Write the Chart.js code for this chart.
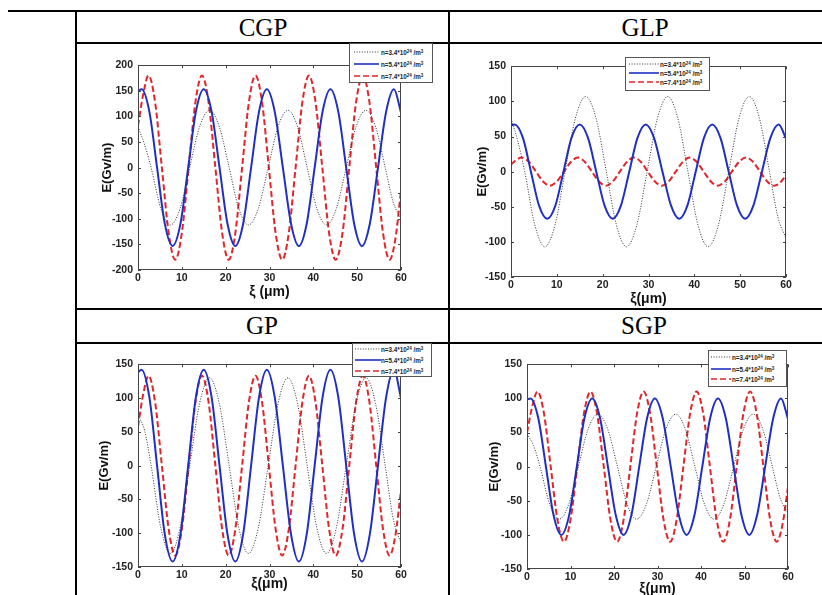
<!DOCTYPE html>
<html>
<head>
<meta charset="utf-8">
<script src="https://cdn.jsdelivr.net/npm/chart.js@4.4.1/dist/chart.umd.min.js"></script>
<style>
  body { margin: 0; width: 822px; height: 595px; background: #fff; overflow: hidden; position: relative; font-family: "Liberation Sans", Arial, sans-serif; }
  .ln { position: absolute; background: #000; }
  .hd { position: absolute; font-family: "Liberation Serif", "Times New Roman", serif; font-size: 25px; transform: translate(-50%, -50%); white-space: nowrap; color: #000; }
  canvas.p { position: absolute; }
  .lg { position: absolute; border: 1px solid #555; background: #fff; box-sizing: border-box; }
  .lg .row { position: absolute; left: 0; height: 8px; white-space: nowrap; font-size: 6.3px; font-weight: bold; color: #222; line-height: 8px; }
  .lg .row svg { position: absolute; top: 0; }
  .lg .row span { position: absolute; top: 0; }
  .lg sup { font-size: 4.5px; vertical-align: 2px; }
</style>
</head>
<body>

<!-- table lines -->
<div class="ln" style="left:8px;top:10px;width:814px;height:2px"></div>
<div class="ln" style="left:75px;top:10px;width:2px;height:585px"></div>
<div class="ln" style="left:448px;top:10px;width:2px;height:585px"></div>
<div class="ln" style="left:76px;top:42px;width:746px;height:1.5px"></div>
<div class="ln" style="left:76px;top:308px;width:746px;height:2px"></div>
<div class="ln" style="left:76px;top:342px;width:746px;height:1.5px"></div>

<div class="hd" style="left:263px;top:28px">CGP</div>
<div class="hd" style="left:645px;top:28px">GLP</div>
<div class="hd" style="left:262px;top:326px">GP</div>
<div class="hd" style="left:644px;top:326px">SGP</div>

<canvas class="p" id="cgp" width="313" height="247" style="left:100px;top:54px"></canvas>
<canvas class="p" id="glp" width="323" height="253" style="left:475px;top:55px"></canvas>
<canvas class="p" id="gp" width="316" height="240" style="left:97px;top:353px"></canvas>
<canvas class="p" id="sgp" width="313" height="245" style="left:487px;top:353px"></canvas>

<script>
// x positions (µm) of the points (extrema, zero crossings, and half way between)
const dotX  = [0, 1.5, 3.0, 5.2, 7.4, 9.6, 11.8, 14.05, 16.3, 18.55, 20.8, 23.0, 25.2, 27.45, 29.7, 31.95, 34.2, 36.4, 38.6, 40.8, 43.0, 45.25, 47.5, 49.75, 52.0, 54.2, 56.4, 58.2, 60];
const blueX = [0, 0.8, 2.6, 4.35, 6.1, 7.9, 9.7, 11.45, 13.2, 15.0, 16.8, 18.6, 20.4, 22.2, 24.0, 25.8, 27.6, 29.4, 31.2, 33.05, 34.9, 36.7, 38.5, 40.3, 42.1, 43.9, 45.7, 47.5, 49.3, 51.1, 52.9, 54.75, 56.6, 58.4, 60];
const redX  = [0, 1.2, 2.4, 3.9, 5.45, 7.0, 8.5, 10.0, 11.55, 13.1, 14.6, 16.1, 17.65, 19.2, 20.7, 22.2, 23.75, 25.3, 26.8, 28.3, 29.85, 31.4, 32.9, 34.4, 35.95, 37.5, 39.0, 40.5, 42.05, 43.6, 45.1, 46.65, 48.2, 49.75, 51.3, 52.8, 54.35, 55.9, 57.4, 58.7, 60];

// E (GV/m)
const cgpDot  = [80, 45, 0, -80, -112, -80, 0, 80, 112, 80, 0, -80, -112, -80, 0, 80, 112, 80, 0, -80, -112, -80, 0, 80, 112, 80, 0, -67, -100];
const cgpBlue = [150, 153, 109, 0, -109, -153, -109, 0, 109, 153, 109, 0, -109, -153, -109, 0, 109, 153, 109, 0, -109, -153, -109, 0, 109, 153, 109, 0, -109, -153, -109, 0, 109, 153, 108];
const cgpRed  = [82, 144, 180, 128, 0, -128, -180, -128, 0, 128, 180, 128, 0, -128, -180, -128, 0, 128, 180, 128, 0, -128, -180, -128, 0, 128, 180, 128, 0, -128, -180, -128, 0, 128, 180, 128, 0, -128, -180, -140, -45];

const glpDot  = [76, 43, 0, -76, -107, -76, 0, 76, 107, 76, 0, -76, -107, -76, 0, 76, 107, 76, 0, -76, -107, -76, 0, 76, 107, 76, 0, -64, -95];
const glpBlue = [66, 67, 48, 0, -48, -67, -48, 0, 48, 67, 48, 0, -48, -67, -48, 0, 48, 67, 48, 0, -48, -67, -48, 0, 48, 67, 48, 0, -48, -67, -48, 0, 48, 67, 47];
const glpRed  = [10, 17, 20, 14, 0, -14, -20, -14, 0, 14, 20, 14, 0, -14, -20, -14, 0, 14, 20, 14, 0, -14, -20, -14, 0, 14, 20, 14, 0, -14, -20, -14, 0, 14, 20, 14, 0, -14, -20, -16, -5];

const gpDot  = [75, 52, 0, -92, -130, -92, 0, 92, 130, 92, 0, -92, -130, -92, 0, 92, 130, 92, 0, -92, -130, -92, 0, 92, 130, 92, 0, -78, -115];
const gpBlue = [138, 142, 101, 0, -101, -142, -101, 0, 101, 142, 101, 0, -101, -142, -101, 0, 101, 142, 101, 0, -101, -142, -101, 0, 101, 142, 101, 0, -101, -142, -101, 0, 101, 142, 100];
const gpRed  = [58, 106, 133, 94, 0, -94, -133, -94, 0, 94, 133, 94, 0, -94, -133, -94, 0, 94, 133, 94, 0, -94, -133, -94, 0, 94, 133, 94, 0, -94, -133, -94, 0, 94, 133, 94, 0, -94, -133, -104, -37];

const sgpDot  = [48, 31, 0, -55, -77, -55, 0, 55, 77, 55, 0, -55, -77, -55, 0, 55, 77, 55, 0, -55, -77, -55, 0, 55, 77, 55, 0, -46, -68];
const sgpBlue = [98, 100, 71, 0, -71, -100, -71, 0, 71, 100, 71, 0, -71, -100, -71, 0, 71, 100, 71, 0, -71, -100, -71, 0, 71, 100, 71, 0, -71, -100, -71, 0, 71, 100, 70];
const sgpRed  = [50, 88, 110, 78, 0, -78, -110, -78, 0, 78, 110, 78, 0, -78, -110, -78, 0, 78, 110, 78, 0, -78, -110, -78, 0, 78, 110, 78, 0, -78, -110, -78, 0, 78, 110, 78, 0, -78, -110, -86, -30];

const seriesLabels = ['n=3.4*10<sup>24</sup> /m<sup>3</sup>', 'n=5.4*10<sup>24</sup> /m<sup>3</sup>', 'n=7.4*10<sup>24</sup> /m<sup>3</sup>'];

const styles = [
    { color: '#333333', width: 1, dash: [1, 1.6] },
    { color: '#1f2fc4', width: 2, dash: [] },
    { color: '#e0262a', width: 2, dash: [6, 3] }
];

// box + inward ticks, matlab style
const boxPlugin = {
    id: 'box',
    afterDatasetsDraw(chart) {
        const { ctx, chartArea: a, scales } = chart;
        ctx.save();
        ctx.strokeStyle = '#444';
        ctx.lineWidth = 1;
        ctx.strokeRect(Math.round(a.left) + 0.5, Math.round(a.top) + 0.5, Math.round(a.width) - 1, Math.round(a.height) - 1);
        ctx.beginPath();
        scales.x.ticks.forEach(t => {
            const px = Math.round(scales.x.getPixelForValue(t.value)) + 0.5;
            ctx.moveTo(px, a.bottom); ctx.lineTo(px, a.bottom - 3);
            ctx.moveTo(px, a.top); ctx.lineTo(px, a.top + 3);
        });
        scales.y.ticks.forEach(t => {
            const py = Math.round(scales.y.getPixelForValue(t.value)) + 0.5;
            ctx.moveTo(a.left, py); ctx.lineTo(a.left + 3, py);
            ctx.moveTo(a.right, py); ctx.lineTo(a.right - 3, py);
        });
        ctx.stroke();
        ctx.restore();
    }
};

function toPts(xs, ys) { return xs.map((x, i) => ({ x, y: ys[i] })); }

function panel(id, yMin, yMax, yW, xH, xTitle, dot, blue, red) {
    const sets = [toPts(dotX, dot), toPts(blueX, blue), toPts(redX, red)];
    new Chart(document.getElementById(id), {
        type: 'line',
        data: {
            datasets: sets.map((d, i) => ({
                data: d,
                borderColor: styles[i].color, borderWidth: styles[i].width, borderDash: styles[i].dash,
                pointRadius: 0, fill: false, cubicInterpolationMode: 'monotone'
            }))
        },
        options: {
            responsive: false, animation: false, events: [],
            layout: { padding: { top: 10, right: 12, left: 0, bottom: 0 } },
            plugins: { legend: { display: false }, tooltip: { enabled: false } },
            scales: {
                x: {
                    type: 'linear', min: 0, max: 60,
                    ticks: { stepSize: 10, padding: 2, color: '#222', font: { family: 'Liberation Sans', size: 10.5, weight: 'bold' } },
                    grid: { display: false, drawTicks: false }, border: { display: false },
                    title: { display: true, text: xTitle, padding: 0, color: '#111', font: { family: 'Liberation Sans', size: 14, weight: 'bold' } },
                    afterFit: s => { s.height = xH; }
                },
                y: {
                    min: yMin, max: yMax,
                    ticks: { stepSize: 50, padding: 5, color: '#222', font: { family: 'Liberation Sans', size: 10.5, weight: 'bold' } },
                    grid: { display: false, drawTicks: false }, border: { display: false },
                    title: { display: true, text: 'E(Gv/m)', padding: 0, color: '#111', font: { family: 'Liberation Sans', size: 13, weight: 'bold' } },
                    afterFit: s => { s.width = yW; }
                }
            }
        },
        plugins: [boxPlugin]
    });
}

panel('cgp', -200, 200, 38, 31, 'ξ (μm)', cgpDot, cgpBlue, cgpRed);
panel('glp', -150, 150, 36, 31, 'ξ(μm)', glpDot, glpBlue, glpRed);
panel('gp', -150, 150, 41, 26, 'ξ(μm)', gpDot, gpBlue, gpRed);
panel('sgp', -150, 150, 40, 29, 'ξ(μm)', sgpDot, sgpBlue, sgpRed);

// legends (html, placed over each plot)
function legend(left, top, w, h, rows, sampleL, sampleW, textL) {
    const box = document.createElement('div');
    box.className = 'lg';
    Object.assign(box.style, { left: left + 'px', top: top + 'px', width: w + 'px', height: h + 'px' });
    seriesLabels.forEach((lab, i) => {
        const r = document.createElement('div');
        r.className = 'row';
        r.style.top = (rows[i] - 4) + 'px';
        r.style.width = w + 'px';
        const st = styles[i];
        r.innerHTML = '<svg width="' + (sampleL + sampleW + 2) + '" height="8"><line x1="' + sampleL + '" y1="4" x2="' + (sampleL + sampleW) +
            '" y2="4" stroke="' + st.color + '" stroke-width="' + (i === 0 ? 1 : 1.6) + '" stroke-dasharray="' + (st.dash.length ? st.dash.join(',') : 'none') +
            '"/></svg><span style="left:' + textL + 'px">' + lab + '</span>';
        box.appendChild(r);
    });
    document.body.appendChild(box);
}

legend(349, 43, 84, 40, [8, 20, 32], 4, 25, 31);
legend(625, 57, 85, 34, [6, 15, 24], 3, 30, 34);
legend(352, 343, 80, 34, [5, 16, 27], 2, 26, 28);
legend(708, 350, 79, 37, [6, 18, 28], 2, 20, 23);
</script>
</body>
</html>
